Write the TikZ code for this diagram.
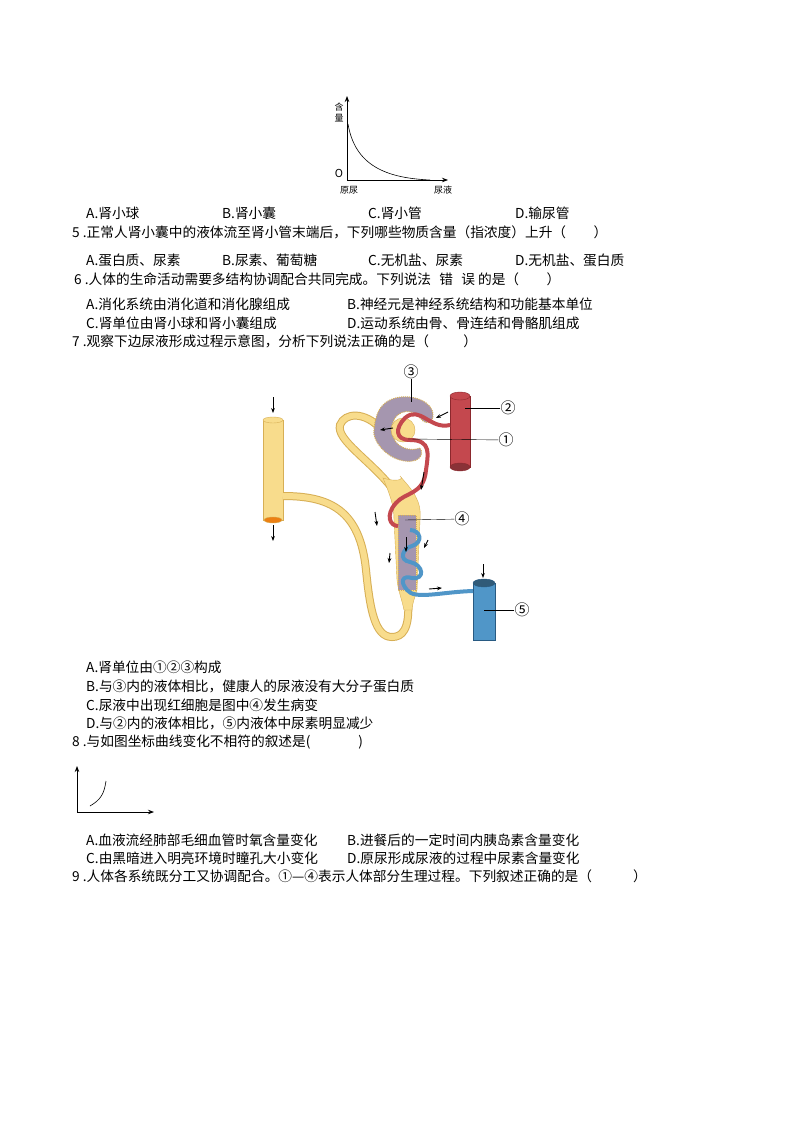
\documentclass[tikz,border=0pt]{standalone}
\usepackage{fontspec}
\setmainfont{Noto Sans CJK SC}
\usetikzlibrary{arrows.meta}
\definecolor{ye}{RGB}{248,220,140}
\definecolor{yeo}{RGB}{215,175,85}
\definecolor{rd}{RGB}{196,72,78}
\definecolor{rdo}{RGB}{140,40,45}
\definecolor{bl}{RGB}{80,150,200}
\definecolor{blo}{RGB}{40,90,130}
\definecolor{pu}{RGB}{165,150,175}
\begin{document}
\begin{tikzpicture}[x=1pt,y=-1pt,
  tx/.style={anchor=west,inner sep=0pt,font=\fontsize{13.7}{15}\selectfont},
  sm/.style={inner sep=0pt,font=\fontsize{9}{10}\selectfont},
  ax/.style={-{Stealth[length=6pt]},line width=0.8pt},
  lab/.style={inner sep=0pt,font=\fontsize{15}{16}\selectfont},
  ar/.style={-{Stealth[length=5pt]},line width=0.9pt},
  yel/.style={fill=ye,draw=yeo},
  redv/.style={fill=rd,draw=rdo},
  blu/.style={fill=bl,draw=blo}]
\useasboundingbox[fill=white] (0,0) rectangle (794,1123);
% top graph
\coordinate (o) at (347,180);
\coordinate (yt) at (347,96);
\coordinate (xt) at (448,180);
\draw[ax] (o)--(yt);
\draw[ax] (o)--(xt);
\draw[line width=0.6pt] (348,124) .. controls (355,165) and (385,178) .. (430,180);
\node[sm] (hl) at (339,107) {含};
\node[sm] (hl2) at (339,118) {量};
\node[inner sep=0pt,font=\fontsize{11}{12}\selectfont] (oo) at (339,173) {O};
\node[sm] (yn) at (349,190) {原尿};
\node[sm] (nl) at (443,190) {尿液};
% text
\node[tx] (a4) at (86,213) {A.肾小球};
\node[tx] (b4) at (222,213) {B.肾小囊};
\node[tx] (c4) at (368,213) {C.肾小管};
\node[tx] (d4) at (515,213) {D.输尿管};
\node[tx] (q5) at (72,232) {5 .正常人肾小囊中的液体流至肾小管末端后，下列哪些物质含量（指浓度）上升（\hspace{2em}）};
\node[tx] (a5) at (86,260) {A.蛋白质、尿素};
\node[tx] (b5) at (222,260) {B.尿素、葡萄糖};
\node[tx] (c5) at (368,260) {C.无机盐、尿素};
\node[tx] (d5) at (515,260) {D.无机盐、蛋白质};
\node[tx] (q6) at (74,279) {6 .人体的生命活动需要多结构协调配合共同完成。下列说法\hspace{0.6em}错\hspace{0.6em}误 的是（\hspace{2em}）};
\node[tx] (a6) at (86,304) {A.消化系统由消化道和消化腺组成};
\node[tx] (b6) at (347,304) {B.神经元是神经系统结构和功能基本单位};
\node[tx] (c6) at (86,323) {C.肾单位由肾小球和肾小囊组成};
\node[tx] (d6) at (347,323) {D.运动系统由骨、骨连结和骨骼肌组成};
\node[tx] (q7) at (72,341) {7 .观察下边尿液形成过程示意图，分析下列说法正确的是（\hspace{2.5em}）};
% kidney diagram
\draw[yel] (263,420) rectangle (283,520);
\draw[yel] (273,420) ellipse (10 and 3);
\draw[fill=orange!70!brown,draw=yeo] (273,520) ellipse (9 and 3);
\foreach \w/\c in {8/yeo,6/ye}{
\draw[line width=\w pt,\c,line cap=round] (380,428) .. controls (365,412) and (345,412) .. (340,425)
  .. controls (336,440) and (370,460) .. (392,488);
\draw[line width=\w pt,\c] (408,600) .. controls (410,630) and (402,637) .. (392,637)
  .. controls (375,637) and (370,610) .. (366,570)
  .. controls (360,510) and (330,496) .. (283,496);
}
\draw[yel] (383,478) .. controls (395,482) and (405,480) .. (400,476)
  .. controls (412,490) and (422,500) .. (420,520)
  -- (417,590) .. controls (414,600) and (412,605) .. (412,610) -- (404,610)
  .. controls (402,600) and (398,590) .. (397,580) -- (394,520)
  .. controls (394,505) and (390,495) .. (383,478) -- cycle;
\draw[fill=pu,draw=yeo,densely dotted,line width=1pt] (398,515) rectangle (416,590);
\draw[fill=pu,draw=yeo,densely dotted,line width=1pt]
  (383,405) .. controls (395,392) and (425,395) .. (432,410)
  .. controls (436,420) and (428,428) .. (420,418)
  .. controls (410,405) and (390,412) .. (392,432)
  .. controls (394,448) and (410,452) .. (420,448)
  .. controls (425,455) and (418,465) .. (400,460)
  .. controls (385,456) and (372,440) .. (374,430)
  .. controls (375,418) and (378,410) .. (383,405) -- cycle;
\draw[fill=ye,draw=yeo] (403,430) circle (12);
\draw[redv] (450,396) rectangle (470,467);
\draw[redv] (460,396) ellipse (10 and 4);
\draw[fill=rd!70!black,draw=rdo] (460,467) ellipse (10 and 4);
\draw[line width=4pt,rd] (450,425) .. controls (430,430) and (420,405) .. (405,418)
  .. controls (395,428) and (395,440) .. (410,440) .. controls (432,440) and (428,455) .. (426,470)
  .. controls (424,495) and (405,492) .. (396,503) .. controls (385,515) and (390,526) .. (398,526);
\draw[blu] (473,583) rectangle (495,640);
\draw[fill=bl!60!black,draw=blo] (484,583) ellipse (11 and 4);
\draw[line width=4pt,bl] (473,591) .. controls (440,592) and (415,600) .. (407,590)
  .. controls (400,582) and (402,575) .. (412,578) .. controls (425,580) and (424,565) .. (410,562)
  .. controls (398,560) and (403,548) .. (412,546) .. controls (424,542) and (420,530) .. (410,530);
\draw[ar] (273,397)--(273,413);
\draw[ar] (273,525)--(273,541);
\draw[ar] (448,412)--(436,418);
\draw[ar] (393,428)--(380,430);
\draw[ar] (424,472)--(421,490);
\draw[ar] (375,512)--(377,526);
\draw[ar] (406,537)--(406,552);
\draw[ar] (428,540)--(424,548);
\draw[ar] (390,553)--(389,563);
\draw[ar] (429,589)--(442,588);
\draw[ar] (483,564)--(483,578);
\node[lab] (l3) at (411,372) {③};
\node[lab] (l2) at (508,408) {②};
\node[lab] (l1) at (506,440) {①};
\node[lab] (l4) at (462,519) {④};
\node[lab] (l5) at (522,610) {⑤};
\coordinate (p3) at (411,402);
\coordinate (p2) at (465,408);
\coordinate (p1) at (408,439);
\coordinate (p4) at (405,520);
\coordinate (p5) at (484,610);
\draw (l3)--(p3); \draw (l2)--(p2); \draw (l1)--(p1); \draw (l4)--(p4); \draw (l5)--(p5);
\node[tx] (a7) at (86,667) {A.肾单位由①②③构成};
\node[tx] (b7) at (86,686) {B.与③内的液体相比，健康人的尿液没有大分子蛋白质};
\node[tx] (c7) at (86,705) {C.尿液中出现红细胞是图中④发生病变};
\node[tx] (d7) at (86,723) {D.与②内的液体相比，⑤内液体中尿素明显减少};
\node[tx] (q8) at (72,742) {8 .与如图坐标曲线变化不相符的叙述是(\hspace{3.5em})};
\coordinate (o2) at (77,812);
\draw[ax] (o2)--(77,766);
\draw[ax] (o2)--(154,812);
\draw[line width=0.6pt] (90,806) .. controls (100,800) and (104,795) .. (106,781);
\node[tx] (a8) at (86,840) {A.血液流经肺部毛细血管时氧含量变化};
\node[tx] (b8) at (347,840) {B.进餐后的一定时间内胰岛素含量变化};
\node[tx] (c8) at (86,858) {C.由黑暗进入明亮环境时瞳孔大小变化};
\node[tx] (d8) at (347,858) {D.原尿形成尿液的过程中尿素含量变化};
\node[tx] (q9) at (72,876) {9 .人体各系统既分工又协调配合。①—④表示人体部分生理过程。下列叙述正确的是（\hspace{3em}）};
\end{tikzpicture}
\end{document}
